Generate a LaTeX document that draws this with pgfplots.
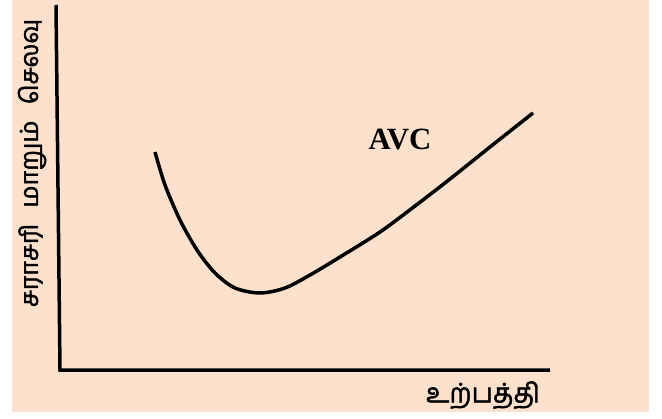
\documentclass[border=0pt]{standalone}
\usepackage{pgfplots}
\pgfplotsset{compat=1.18}
\usepackage{fontspec}
\setmainfont{Liberation Serif}
\newfontfamily\tamil[Script=Tamil, FakeBold=1.8]{Hind Madurai}
\definecolor{peach}{RGB}{253,225,205}
\begin{document}
\begin{tikzpicture}
\begin{axis}[
    scale only axis,
    width=662bp, height=419bp,
    xmin=0, xmax=662, ymin=0, ymax=419,
    y dir=reverse,
    axis lines=none,
    xtick=\empty, ytick=\empty,
    clip=false,
]
% whole page (white) and background panel
\addplot[draw=none, fill=white] coordinates {(0,0) (662,0) (662,419) (0,419)} -- cycle;
\addplot[draw=none, fill=peach] coordinates {(12,0) (649,0) (649,412) (12,412)} -- cycle;
% axes drawn as lines
\addplot[black, line width=3.5bp] coordinates {(56,5) (60,370) (550,370)};
% AVC curve
\addplot[black, line width=3.5bp, smooth] coordinates {
    (155,152) (165,185) (180,220) (197,250) (215,273) (235,288)
    (260,293) (285,288) (310,275) (340,257) (380,232) (415,206)
    (450,179) (490,147) (533,113)
};
\node[font=\bfseries\fontsize{31}{35}\selectfont] at (axis cs:400,140) {AVC};
\node[font=\tamil\fontsize{27}{32}\selectfont] at (axis cs:483,395) {உற்பத்தி};
\node[font=\tamil\fontsize{25}{30}\selectfont, rotate=90] at (axis cs:32,163) {சராசரி\hspace{0.65em}மாறும்\hspace{0.65em}செலவு};
\end{axis}
\end{tikzpicture}
\end{document}
